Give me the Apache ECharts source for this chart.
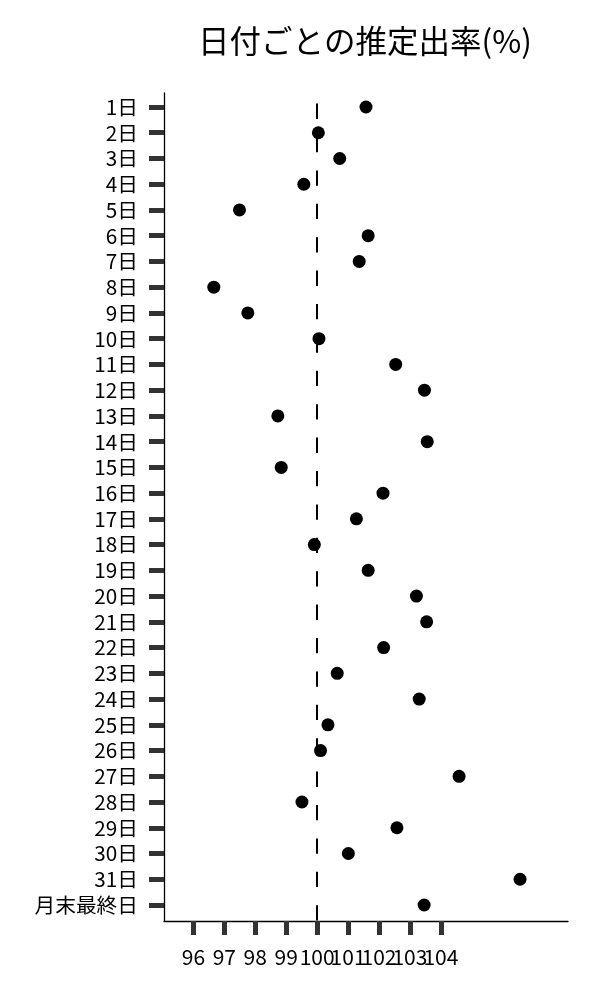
<!DOCTYPE html>
<html>
<head>
<meta charset="utf-8">
<script src="https://cdn.jsdelivr.net/npm/echarts@6/dist/echarts.min.js"></script>
<style>html,body{margin:0;padding:0;background:#fff}#c{width:600px;height:1000px}</style>
</head>
<body>
<div id="c"></div>
<script>
const categories = ['1日','2日','3日','4日','5日','6日','7日','8日','9日','10日','11日','12日','13日','14日','15日','16日','17日','18日','19日','20日','21日','22日','23日','24日','25日','26日','27日','28日','29日','30日','31日','月末最終日'];
const rates = [101.58,100.04,100.73,99.57,97.49,101.65,101.36,96.66,97.76,100.06,102.54,103.47,98.73,103.56,98.84,102.13,101.27,99.91,101.65,103.21,103.54,102.15,100.65,103.30,100.35,100.11,104.59,99.51,102.58,101.01,106.56,103.46];
const xTicks = [96,97,98,99,100,101,102,103,104];
const referenceValue = 100;
const titleText = '日付ごとの推定出率(%)';

const FONT = '"Noto Sans CJK JP", "Noto Sans", sans-serif';
const X_MIN = 95.05, X_MAX = 108.11;
const catIndex = categories.map((c, i) => i);
const chart = echarts.init(document.getElementById('c'), null, {renderer: 'canvas'});
chart.setOption({
  animation: false,
  backgroundColor: '#fff',
  title: {
    text: titleText,
    left: 360, textAlign: 'center', top: 20,
    textStyle: {fontFamily: FONT, fontSize: 31.5, fontWeight: 'normal', color: '#000'}
  },
  grid: {left: 164, right: 32, top: 93, bottom: 79, containLabel: false},
  xAxis: {
    type: 'value', min: X_MIN, max: X_MAX,
    splitLine: {show: false},
    axisLine: {show: true, onZero: false, lineStyle: {color: '#000', width: 1.3}},
    axisTick: {show: true, customValues: xTicks, length: 14, lineStyle: {color: '#333', width: 5}},
    axisLabel: {customValues: [X_MIN].concat(xTicks, [X_MAX]), margin: 26, fontFamily: FONT, fontSize: 21, color: '#000', hideOverlap: false,
      formatter: v => xTicks.indexOf(v) >= 0 ? String(v) : ''}
  },
  yAxis: {
    type: 'value', inverse: true, min: -0.544, max: 31.622,
    axisLine: {show: true, onZero: false, lineStyle: {color: '#000', width: 1.3}},
    axisTick: {show: true, customValues: catIndex, length: 15, lineStyle: {color: '#333', width: 5}},
    axisLabel: {customValues: catIndex, margin: 26, fontFamily: FONT, fontSize: 20.7, color: '#000', hideOverlap: false, showMinLabel: true, showMaxLabel: true,
      formatter: v => categories[Math.round(v)] || ''},
    splitLine: {show: false}
  },
  series: [{
    type: 'scatter',
    data: rates.map((v, i) => [v, i]),
    symbol: 'circle', symbolSize: 13,
    itemStyle: {color: '#000', opacity: 1},
    z: 3,
    markLine: {
      silent: true, symbol: 'none', label: {show: false},
      lineStyle: {color: '#000', width: 2, type: [15.3, 18.1], dashOffset: 22.8, opacity: 1},
      emphasis: {disabled: true},
      data: [{xAxis: referenceValue}],
      z: 2
    }
  }]
});
</script>
</body>
</html>
